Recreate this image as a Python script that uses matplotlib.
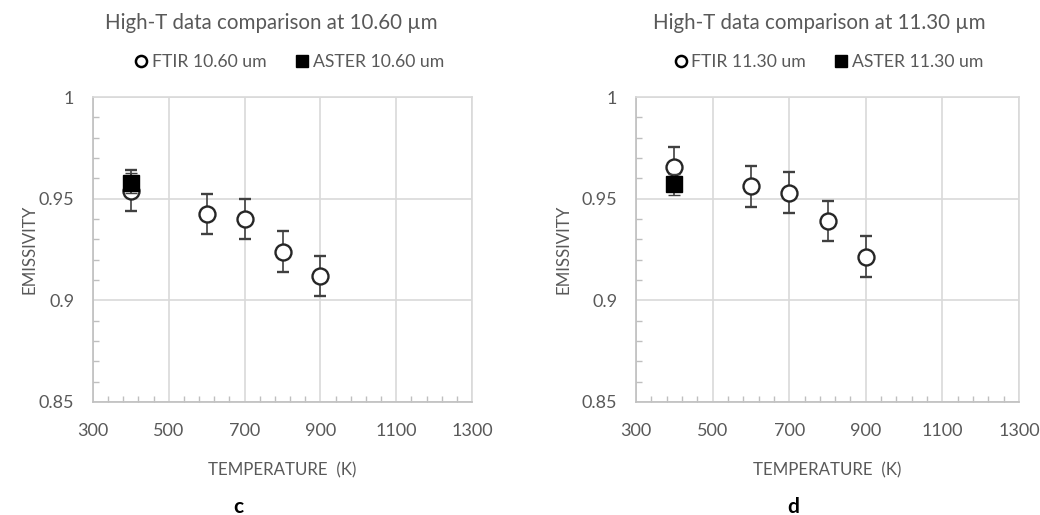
import matplotlib
matplotlib.use("Agg")
import matplotlib.pyplot as plt
from matplotlib.lines import Line2D
from matplotlib.ticker import MultipleLocator, FixedLocator, FuncFormatter

plt.rcParams["font.family"] = ["Lato", "DejaVu Sans"]

# --- data ---
temps_ftir = [400, 600, 700, 800, 900]
ftir_1060 = [0.954, 0.9425, 0.940, 0.924, 0.912]
ftir_1060_err = [0.010, 0.010, 0.010, 0.010, 0.010]
aster_temp = [400]
aster_1060 = [0.9578]
aster_1060_err = [0.005]

ftir_1130 = [0.9655, 0.956, 0.953, 0.939, 0.9215]
ftir_1130_err = [0.010, 0.010, 0.010, 0.010, 0.010]
aster_1130 = [0.957]
aster_1130_err = [0.005]

x_major = [300, 500, 700, 900, 1100, 1300]
x_minor = list(range(300, 1301, 40))

panels = [
    ("10.60", ftir_1060, ftir_1060_err, aster_1060, aster_1060_err, "c"),
    ("11.30", ftir_1130, ftir_1130_err, aster_1130, aster_1130_err, "d"),
]

TXT = "#595959"
GRID = "#d9d9d9"
AX = "#bfbfbf"
MK = "#262626"

fig = plt.figure(figsize=(10.4, 5.15), dpi=100)
# axes boxes in pixels: (left, right)
boxes = [(93, 472), (636, 1019)]
title_x = [0.47, 0.479]
legend_x = [0.515, 0.5]
ylab_x = [-56, -64]
letter_x = [238, 793]

for i, (wl, ftir, ftir_err, aster, aster_err, letter) in enumerate(panels):
    l, r = boxes[i]
    ax = fig.add_axes([l / 1040, (515 - 402) / 515, (r - l) / 1040, 305 / 515])
    w = r - l

    ax.errorbar(temps_ftir, ftir, yerr=ftir_err, fmt="o", ms=11.5, mfc="white",
                mec=MK, mew=1.7, ecolor="#404040", elinewidth=1.2, capsize=4,
                capthick=1.2, zorder=3)
    ax.errorbar(aster_temp, aster, yerr=aster_err, fmt="s", ms=11, mfc="black",
                mec="black", mew=1, ecolor="#404040", elinewidth=1.2, capsize=4,
                capthick=1.2, zorder=4)

    ax.set_xlim(300, 1300)
    ax.set_ylim(0.85, 1.0)
    ax.xaxis.set_major_locator(FixedLocator(x_major))
    ax.xaxis.set_minor_locator(FixedLocator(x_minor))
    ax.yaxis.set_major_locator(MultipleLocator(0.05))
    ax.yaxis.set_minor_locator(MultipleLocator(0.01))
    ax.yaxis.set_major_formatter(FuncFormatter(lambda v, p: f"{v:g}"))
    ax.grid(True, which="major", color=GRID, lw=1.2)
    ax.set_axisbelow(True)
    for s in ["top", "right"]:
        ax.spines[s].set_color(GRID)
        ax.spines[s].set_linewidth(1.2)
    for s in ["left", "bottom"]:
        ax.spines[s].set_color(AX)
        ax.spines[s].set_linewidth(1.2)
    ax.tick_params(which="major", length=0, labelsize=13, labelcolor=TXT)
    ax.tick_params(which="minor", direction="in", length=4, color=AX, width=1)
    ax.tick_params(axis="y", which="major", pad=13.5)
    ax.tick_params(axis="x", which="major", pad=15)

    ax.set_xlabel("TEMPERATURE  (K)", fontsize=12.2, color=TXT)
    ax.xaxis.set_label_coords(0.5, -60 / 305)
    ax.set_ylabel("EMISSIVITY", fontsize=12.2, color=TXT)
    ax.yaxis.set_label_coords(ylab_x[i] / w, 0.5)

    ax.text(title_x[i], 1 + 74 / 305, f"High-T data comparison at {wl} µm",
            transform=ax.transAxes, ha="center", va="center", fontsize=14.8,
            color=TXT)

    handles = [
        Line2D([], [], ls="none", marker="o", ms=8, mfc="white", mec="black", mew=1.8),
        Line2D([], [], ls="none", marker="s", ms=8, mfc="black", mec="black"),
    ]
    ax.legend(handles, [f"FTIR {wl} um", f"ASTER {wl} um"], ncol=2, loc="center",
              bbox_to_anchor=(legend_x[i], 1 + 35 / 305), frameon=False,
              fontsize=12.7, labelcolor=TXT, handletextpad=0.1, columnspacing=1.5,
              handlelength=1.0)

    fig.text(letter_x[i] / 1040, 1 - 507 / 515, letter, ha="center", va="center",
             fontsize=15, fontweight="bold", color="black")

fig.savefig("out.png", dpi=100)
